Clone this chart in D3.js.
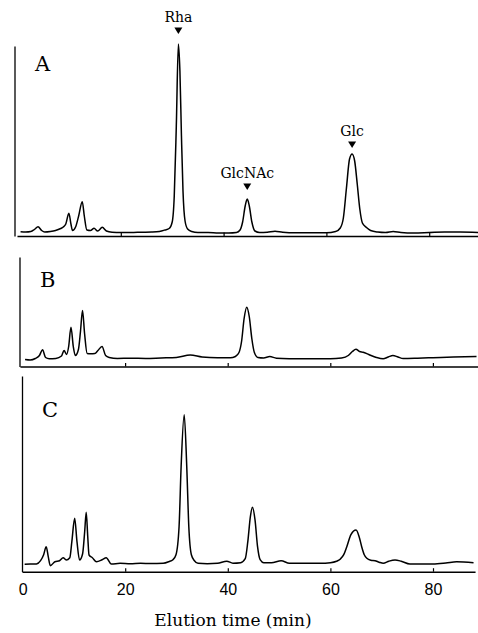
<!DOCTYPE html>
<html>
<head>
<meta charset="utf-8">
<script src="https://cdn.jsdelivr.net/npm/d3@7"></script>
<style>
  html, body { margin: 0; padding: 0; background: #fff; }
  svg { display: block; }
</style>
</head>
<body>
<svg id="chart" width="478" height="633"></svg>
<script>
// ---------- DATA (elution time in min, detector signal in arbitrary units) ----------
const panelLabels = ["A", "B", "C"];
const xTickValues = [0, 20, 40, 60, 80];
const xTickLabels = ["0", "20", "40", "60", "80"];
const xAxisTitle = "Elution time (min)";

const peakNames = ["Rha", "GlcNAc", "Glc"];
const peakTimes = [31.2, 44.6, 65.0];      // marker positions on panel A
const peakHeights = [192, 37, 82];         // apex signal of panel A peaks

const traceA = [
  [0.5,4.3],[1.5,4],[2.5,4.5],[3.2,6.5],[3.9,9.3],[4.6,5.5],[5.2,4],[6.3,4.5],[7.3,5.5],[8.3,7.5],
  [8.8,9],[9.3,12],[9.9,22.7],[10.3,12],[10.6,5.5],[11.2,9],[11.8,20],[12.5,34.3],[12.9,20],[13.4,6],
  [14.1,5.5],[14.8,7.7],[15.5,5],[16.4,8.7],[17.2,5],[18.3,3.8],[20,3.5],[22,3.5],[24,3.8],[26,4],
  [27.5,4.5],[28.6,6],[29.4,7.5],[30.0,14],[30.4,40],[30.8,110],[31.2,192],[31.5,165],[31.8,100],[32.1,45],
  [32.5,15],[33.0,7],[33.8,4.5],[35,3.5],[37,3.5],[39,3],[41,3],[42.5,3.5],[43.2,6],[43.7,14],
  [44.2,30],[44.6,37],[45.0,30],[45.5,14],[46.1,5],[47,3.5],[48.5,3.8],[50,4.8],[51.5,3.8],[54,3.3],
  [57,3.3],[60,3.3],[61.8,4.5],[62.7,8],[63.3,18],[63.9,48],[64.5,77],[65,82],[65.5,75],[66.0,52],
  [66.5,27],[67.0,13],[67.8,8.5],[68.6,5.5],[70,4],[71.5,3.5],[73,4.5],[74.5,3.5],[77,3],[80,3.5],
  [83,4],[86,4],[89.5,3.5]
];

const traceB = [
  [0.5,7],[1.5,6.5],[2.5,8],[3.3,11],[3.9,16.7],[4.5,9],[5.2,7.7],[6.5,8],[7.6,10.5],[8.1,16],
  [8.6,12],[9.0,20],[9.45,39.3],[9.9,20],[10.3,11],[10.9,17],[11.3,35],[11.7,56],[12.1,33],[12.6,13],
  [13.3,12.7],[14.1,13],[14.7,16],[15.5,20],[16.2,11],[16.9,9],[18.5,8],[21,8.3],[24,8],[27,8.5],
  [30,9],[32.7,11.5],[35,9.5],[38,8.7],[40.5,8.7],[41.5,10],[42.2,14],[42.7,25],[43.2,48],[43.7,59.3],
  [44.2,50],[44.7,28],[45.2,14],[45.9,9],[47,8.5],[48.2,10],[49.5,8.3],[52,7.8],[56,7.7],[60,7.7],
  [62.2,8.5],[63.5,11],[64.3,15],[65,17.3],[65.7,15],[66.4,14.3],[67.5,12],[69,9],[70.3,7.7],[71.3,9.5],
  [72.2,11],[73.2,9.5],[74.2,8],[77,8.3],[80,8.8],[84,9.5],[88.5,10]
];

const traceC = [
  [0.4,7.4],[1.5,7.6],[2.7,7.7],[3.5,11],[4.1,17],[4.6,25],[5.0,15],[5.4,6],[6.3,10],[7.2,11],
  [7.9,14],[8.5,11.7],[9.2,14],[9.6,30],[10.15,53.4],[10.6,30],[11.1,11.7],[11.7,18],[12.1,40],[12.4,59.4],
  [12.7,35],[12.95,16.7],[13.6,14],[14.4,10],[15.5,12],[16.3,14],[17.3,7.7],[19,8.4],[21,8],[23,8.4],
  [25,8.2],[27.4,8.4],[28.5,10],[29.3,12],[29.9,17],[30.5,45],[30.9,105],[31.5,157],[32.0,105],[32.4,45],
  [32.9,17],[33.5,11],[34.2,8.4],[36,8],[38,8.4],[39.8,10.5],[41,8.5],[42.5,9],[43.4,13],[43.9,30],
  [44.4,55],[44.8,64.4],[45.3,52],[45.8,25],[46.3,12],[47,9],[48.5,9],[50.4,11],[52,8.5],[55,8.4],
  [58,8.4],[60,9],[61.2,10.5],[61.9,12.5],[62.6,17],[63.2,25],[64.0,37],[65,41.7],[65.6,35],[66.1,25],
  [66.6,17],[67.1,13.4],[67.9,11.5],[68.7,11],[69.5,9.5],[70.3,8.4],[71.4,10.5],[72.6,11.7],[73.8,10.5],[75.5,7.7],
  [78,7.7],[80,7.7],[82.5,8.7],[84.6,10],[87.9,9]
];

const traces = [traceA, traceB, traceC];

// ---------- LAYOUT ----------
const panels = [
  { x0: 18.0, pxPerMin: 5.14, axisY: 236,   yTop: 46,  yAxisX: 14.5, yMax: 190, xStart: -0.2, xEnd: 89.6,
    labelX: 35, labelY: 71, showTickLabels: false },
  { x0: 22.5, pxPerMin: 5.13, axisY: 366.5, yTop: 257, yAxisX: 19.5, yMax: 109.5, xStart: -0.5, xEnd: 88.8,
    labelX: 40, labelY: 287, showTickLabels: false },
  { x0: 22.6, pxPerMin: 5.13, axisY: 571.7, yTop: 376, yAxisX: 22,   yMax: 195.7, xStart: -0.1, xEnd: 88.2,
    labelX: 42, labelY: 417, showTickLabels: true }
];

const svg = d3.select("#chart");
svg.append("rect").attr("width", 478).attr("height", 633).attr("fill", "#fff");

const scales = [];

panels.forEach((p, i) => {
  const x = d3.scaleLinear().domain([0, 80]).range([p.x0, p.x0 + 80 * p.pxPerMin]);
  const y = d3.scaleLinear().domain([0, p.yMax]).range([p.axisY, p.yTop]);
  scales.push({ x, y });

  const g = svg.append("g");

  // x axis baseline + upward ticks
  const xAxisScale = x.copy().domain([p.xStart, p.xEnd]).range([x(p.xStart), x(p.xEnd)]);
  const xAxis = d3.axisBottom(xAxisScale)
    .tickValues(xTickValues)
    .tickSizeInner(-3.5)
    .tickSizeOuter(0)
    .tickPadding(12)
    .tickFormat((d, k) => p.showTickLabels ? xTickLabels[k] : "");
  const gx = g.append("g").attr("transform", `translate(0,${p.axisY})`).call(xAxis);
  gx.select(".domain").attr("stroke", "#000").attr("stroke-width", 1.6);
  gx.selectAll(".tick line").attr("stroke", "#000").attr("stroke-width", 1.2);
  gx.selectAll(".tick").filter(d => d === 0).select("line").remove();
  gx.selectAll(".tick text")
    .attr("fill", "#000")
    .attr("font-family", "'Liberation Sans', Arial, sans-serif")
    .attr("font-size", 16);

  // y axis (plain vertical line)
  const yAxis = d3.axisLeft(y).tickValues([]).tickSizeOuter(0);
  const gy = g.append("g").attr("transform", `translate(${p.yAxisX},0)`).call(yAxis);
  gy.select(".domain").attr("stroke", "#000").attr("stroke-width", 1.3);

  // trace
  const line = d3.line()
    .x(d => x(d[0]))
    .y(d => y(d[1]))
    .curve(d3.curveMonotoneX);
  g.append("path")
    .datum(traces[i])
    .attr("d", line)
    .attr("fill", "none")
    .attr("stroke", "#000")
    .attr("stroke-width", 1.5)
    .attr("stroke-linejoin", "round");

  // panel letter
  g.append("text")
    .attr("x", p.labelX)
    .attr("y", p.labelY)
    .attr("font-family", "'DejaVu Serif', 'Liberation Serif', serif")
    .attr("font-size", 21)
    .attr("fill", "#000")
    .text(panelLabels[i]);
});

// ---------- PEAK MARKERS (panel A) ----------
const sA = scales[0];
const markerGap = [10, 9, 6];
peakNames.forEach((name, k) => {
  const cx = sA.x(peakTimes[k]);
  const topY = sA.y(peakHeights[k]);
  const triBottom = topY - markerGap[k];
  const triTop = triBottom - 6.5;
  svg.append("path")
    .attr("d", `M${cx - 4},${triTop} L${cx + 4},${triTop} L${cx},${triBottom} Z`)
    .attr("fill", "#000");
  svg.append("text")
    .attr("x", cx)
    .attr("y", triTop - 6)
    .attr("text-anchor", "middle")
    .attr("font-family", "'DejaVu Serif', 'Liberation Serif', serif")
    .attr("font-size", 14)
    .attr("fill", "#000")
    .text(name);
});

// ---------- X AXIS TITLE ----------
svg.append("text")
  .attr("x", 233)
  .attr("y", 626)
  .attr("text-anchor", "middle")
  .attr("font-family", "'DejaVu Serif', 'Liberation Serif', serif")
  .attr("font-size", 17)
  .attr("fill", "#000")
  .text(xAxisTitle);
</script>
</body>
</html>
